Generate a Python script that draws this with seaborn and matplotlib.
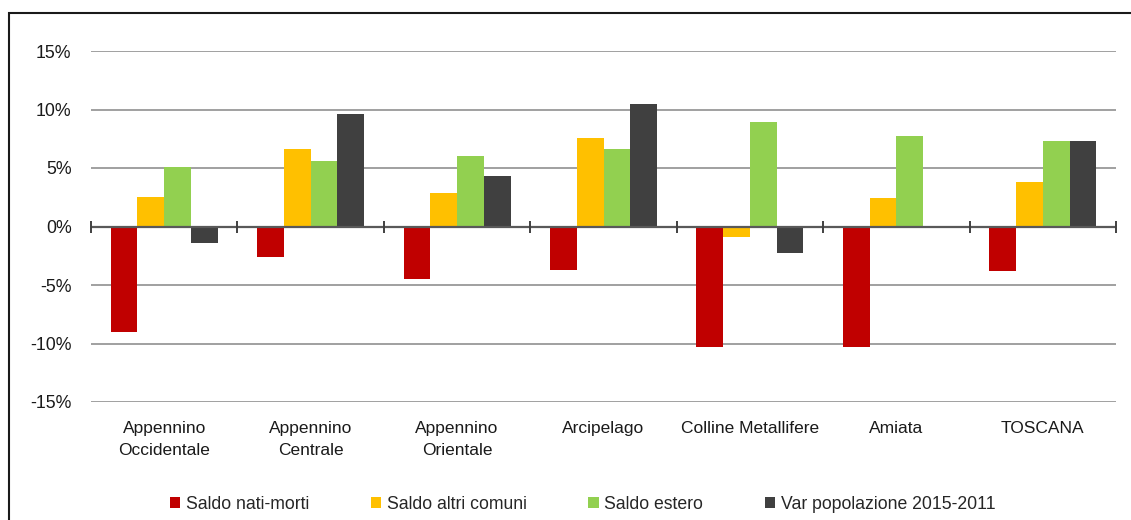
import numpy as np
import pandas as pd
import matplotlib
matplotlib.use("Agg")
import matplotlib.pyplot as plt
from matplotlib.patches import Rectangle
from matplotlib.ticker import FuncFormatter
import seaborn as sns

# values in %
areas = ["Appennino\nOccidentale", "Appennino\nCentrale", "Appennino\nOrientale",
         "Arcipelago", "Colline Metallifere", "Amiata", "TOSCANA"]
saldo_nati_morti = [-9.0, -2.6, -4.5, -3.75, -10.3, -10.3, -3.8]
saldo_altri_comuni = [2.5, 6.6, 2.9, 7.6, -0.9, 2.4, 3.8]
saldo_estero = [5.1, 5.6, 6.0, 6.65, 8.9, 7.7, 7.3]
var_popolazione = [-1.4, 9.6, 4.3, 10.5, -2.3, -0.05, 7.3]

series_names = ["Saldo nati-morti", "Saldo altri comuni", "Saldo estero",
                "Var popolazione 2015-2011"]
series_colors = ["#C00000", "#FFC000", "#92D050", "#404040"]
y_ticks = [-15, -10, -5, 0, 5, 10, 15]

rows = []
for name, vals in zip(series_names, [saldo_nati_morti, saldo_altri_comuni,
                                     saldo_estero, var_popolazione]):
    for area, v in zip(areas, vals):
        rows.append({"area": area, "serie": name, "valore": v})
df = pd.DataFrame(rows)

sns.set_style("white")
plt.rcParams["font.family"] = ["Liberation Sans", "DejaVu Sans"]

fig = plt.figure(figsize=(11.31, 5.2), dpi=100)
ax = fig.add_axes([91 / 1131, 1 - 402 / 520, 1025 / 1131, 351 / 520])

sns.barplot(data=df, x="area", y="valore", hue="serie", order=areas,
            hue_order=series_names, palette=series_colors, width=0.73,
            linewidth=0, saturation=1, ax=ax)

ax.set_ylim(-15, 15)
ax.set_xlim(-0.5, len(areas) - 0.5)
ax.set_yticks(y_ticks)
ax.yaxis.set_major_formatter(FuncFormatter(lambda v, p: f"{v:.0f}%"))
for t in y_ticks:
    if t != 0:
        ax.axhline(t, color="#A0A0A0", lw=1.4, zorder=0)
ax.axhline(0, color="#595959", lw=1.6, zorder=3)
bounds = np.arange(len(areas) + 1) - 0.5
ax.plot(bounds, np.zeros(len(bounds)), ls="none", marker="|", ms=9,
        mew=1.4, color="#404040", zorder=4, clip_on=False)

ax.set_xlabel("")
ax.set_ylabel("")
for s in ax.spines.values():
    s.set_visible(False)
ax.tick_params(axis="y", length=0, pad=14, labelsize=12.8, labelcolor="#1a1a1a")
ax.tick_params(axis="x", length=0, pad=14, labelsize=12.5, labelcolor="#1a1a1a")
for lab in ax.get_xticklabels():
    lab.set_linespacing(1.55)

handles, labels = ax.get_legend_handles_labels()
ax.legend_.remove()
fig.legend(handles, labels, loc="center", bbox_to_anchor=(0.515, 0.03),
           ncol=4, frameon=False, fontsize=12.7, handlelength=0.6,
           handleheight=0.6, handletextpad=0.3, columnspacing=3.5)

fig.add_artist(Rectangle((9 / 1131, -0.05), 1.1, 1 - 13 / 520 + 0.05,
                         transform=fig.transFigure, fill=False,
                         edgecolor="#1a1a1a", lw=1.5, clip_on=False))

fig.savefig("out.png", dpi=100)
